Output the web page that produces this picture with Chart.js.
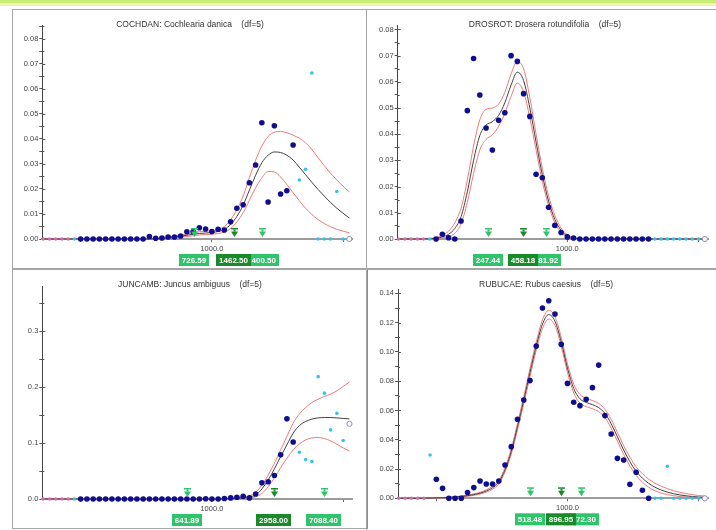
<!DOCTYPE html>
<html>
<head>
<meta charset="utf-8">
<script src="https://cdn.jsdelivr.net/npm/chart.js@4.4.1/dist/chart.umd.min.js"></script>
<style>
  html, body { margin: 0; padding: 0; background: #ffffff; }
  body { width: 716px; height: 530px; position: relative; overflow: hidden; }
  .band1 { position: absolute; left: 0; top: 0; width: 716px; height: 3px; background: #c6ef78; }
  .band2 { position: absolute; left: 0; top: 3px; width: 716px; height: 3px; background: #eef6ae; }
  .frame { position: absolute; box-sizing: border-box; border: 1px solid #a6a6a6; }
  canvas { position: absolute; }
</style>
</head>
<body>
<div class="band1"></div>
<div class="band2"></div>
<div class="frame" style="left:12px;top:9px;width:355px;height:260px;"></div>
<div class="frame" style="left:366px;top:9px;width:360px;height:260px;"></div>
<div class="frame" style="left:12px;top:269px;width:356px;height:260px;border-right:2px solid #8c8c8c;"></div>
<div class="frame" style="left:366px;top:269px;width:360px;height:270px;"></div>
<canvas id="cochdan" width="352" height="257" style="left:13px;top:10px;"></canvas>
<canvas id="drosrot" width="349" height="257" style="left:367px;top:10px;"></canvas>
<canvas id="juncamb" width="352" height="257" style="left:13px;top:270px;"></canvas>
<canvas id="rubucae" width="348" height="259" style="left:368px;top:270px;"></canvas>

<script>
// Gradient positions shared by all four species (log-spaced sampling points)
const gradient = [
  51.8, 57.8, 64.5, 72.0, 80.3, 89.6, 100, 111.6, 124.5, 138.9,
  155.0, 173.0, 193.1, 215.4, 240.4, 268.3, 299.4, 334.1, 372.8, 416.0,
  464.2, 518.0, 578.0, 644.9, 719.7, 803.1, 896.1, 1000, 1115.9, 1245.2,
  1389.5, 1550.5, 1730.1, 1930.7, 2154.4, 2404.1, 2682.7, 2993.6, 3340.5, 3727.6,
  4159.6, 4641.6, 5179.5, 5779.7, 6449.5, 7196.9, 8031.0, 8961.6, 10000, 11158.8
];
// Sample class of each gradient position: p = excluded, c = sparse, n = regular, o = end
const sampleClass = [
  'p','p','p','p','p','c','n','n','n','n',
  'n','n','n','n','n','n','n','n','n','n',
  'n','n','n','n','n','n','n','n','n','n',
  'n','n','n','n','n','n','n','n','n','n',
  'n','c','c','c','c','c','c','c','c','o'
];
const gradientTicks = [100, 1000, 10000];
const gradientTickLabels = ['', '1000.0', ''];

// COCHDAN: Cochlearia danica
const cochObs = [
  0,0,0,0,0,0,0,0,0,0,
  0,0,0,0,0,0,0,0.001,0.0003,0.0004,
  0.0008,0.0008,0.0012,0.0029,0.003,0.0045,0.004,0.003,0.0039,0.0036,
  0.0069,0.0123,0.0137,0.0225,0.0296,0.0465,0.0148,0.0453,0.018,0.0193,
  0.0376,0.0236,0.0279,0.0664,0,0,0,0.019,0,0
];
const cochFit = [
  0,0,0,0,0,0,0,0,0,0,
  0,0,0,0,0,0,0,0,0.0002,0.0003,
  0.0005,0.0008,0.0011,0.0015,0.0019,0.0022,0.0024,0.0026,0.003,0.0038,
  0.0058,0.009,0.0135,0.0195,0.0255,0.0305,0.0335,0.0348,0.0346,0.0335,
  0.0316,0.0287,0.0257,0.0227,0.0198,0.0171,0.0146,0.0123,0.0103,0.0084
];
const cochUpper = [
  0,0,0,0,0,0,0,0,0,0,
  0,0,0,0,0,0,0,0,0.0003,0.0005,
  0.0008,0.0011,0.0015,0.002,0.0025,0.0029,0.0031,0.0033,0.0038,0.005,
  0.0077,0.0118,0.0172,0.0245,0.0315,0.0372,0.041,0.0427,0.043,0.0425,
  0.0415,0.0403,0.0385,0.0358,0.0325,0.0293,0.0263,0.0236,0.0211,0.0188
];
const cochLower = [
  0,0,0,0,0,0,0,0,0,0,
  0,0,0,0,0,0,0,0,0.0001,0.0002,
  0.0003,0.0005,0.0008,0.001,0.0013,0.0016,0.0018,0.0019,0.0022,0.0028,
  0.0042,0.0068,0.0105,0.0155,0.0205,0.0245,0.027,0.0268,0.0248,0.0218,
  0.0185,0.0153,0.0123,0.0098,0.0078,0.0062,0.0049,0.0039,0.0031,0.0025
];
const cochMarks = [726.59, 1462.50, 2400.50];
const cochYTicks = [0, 0.01, 0.02, 0.03, 0.04, 0.05, 0.06, 0.07, 0.08];
const cochYLabels = ['0.00','0.01','0.02','0.03','0.04','0.05','0.06','0.07','0.08'];

// DROSROT: Drosera rotundifolia
const drosObs = [
  0,0,0,0,0,0,0,0.0018,0.0005,0,
  0.0069,0.049,0.0689,0.055,0.0424,0.034,0.0453,0.0482,0.070,0.0678,
  0.0555,0.0468,0.0247,0.0234,0.0121,0.0052,0.0025,0.0008,0.0004,0,
  0,0,0,0,0,0,0,0,0,0,
  0,0,0,0,0,0,0,0,0,0
];
const drosFit = [
  0,0,0,0,0,0.0001,0.0003,0.0008,0.0018,0.004,
  0.0085,0.018,0.030,0.0395,0.0435,0.0448,0.0472,0.052,0.0588,0.0637,
  0.0605,0.050,0.037,0.0245,0.0145,0.0075,0.0033,0.0012,0.0004,0.0001,
  0,0,0,0,0,0,0,0,0,0,
  0,0,0,0,0,0,0,0,0,0
];
const drosUpper = [
  0,0,0,0,0,0.0002,0.0006,0.0014,0.003,0.0062,
  0.0118,0.0225,0.0355,0.0455,0.0495,0.050,0.0515,0.056,0.063,0.0678,
  0.065,0.054,0.040,0.027,0.0165,0.009,0.0042,0.0017,0.0006,0.0002,
  0,0,0,0,0,0,0,0,0,0,
  0,0,0,0,0,0,0,0,0,0
];
const drosLower = [
  0,0,0,0,0,0,0.0001,0.0004,0.0009,0.0022,
  0.0058,0.014,0.025,0.034,0.038,0.0398,0.043,0.048,0.0545,0.0595,
  0.0562,0.0462,0.034,0.022,0.0128,0.0062,0.0026,0.0009,0.0003,0.0001,
  0,0,0,0,0,0,0,0,0,0,
  0,0,0,0,0,0,0,0,0,0
];
const drosMarks = [247.44, 458.18, 681.92];
const drosYTicks = [0, 0.01, 0.02, 0.03, 0.04, 0.05, 0.06, 0.07, 0.08];
const drosYLabels = ['0.00','0.01','0.02','0.03','0.04','0.05','0.06','0.07','0.08'];

// JUNCAMB: Juncus ambiguus
const juncObs = [
  0,0,0,0,0,0,0,0,0,0,
  0,0,0,0,0,0,0,0,0,0,
  0,0,0,0,0,0,0.0005,0,0,0.001,
  0.002,0.003,0.005,0.002,0.009,0.029,0.031,0.042,0.079,0.1435,
  0.102,0.0837,0.0705,0.067,0.219,0.1895,0.1237,0.1536,0.1046,0.1345
];
const juncFit = [
  0,0,0,0,0,0,0,0,0,0,
  0,0,0,0,0,0,0,0,0,0,
  0,0,0,0,0,0,0,0,0,0.0005,
  0.001,0.0015,0.002,0.004,0.007,0.018,0.034,0.054,0.076,0.097,
  0.118,0.1315,0.1387,0.143,0.1452,0.1458,0.1458,0.1452,0.1442,0.1435
];
const juncUpper = [
  0,0,0,0,0,0,0,0,0,0,
  0,0,0,0,0,0,0,0,0,0,
  0,0,0,0,0,0,0,0,0,0.0007,
  0.0014,0.002,0.003,0.0055,0.012,0.025,0.043,0.064,0.088,0.112,
  0.1357,0.1524,0.1638,0.1727,0.1787,0.1835,0.1877,0.1937,0.2014,0.2092
];
const juncLower = [
  0,0,0,0,0,0,0,0,0,0,
  0,0,0,0,0,0,0,0,0,0,
  0,0,0,0,0,0,0,0,0,0.0003,
  0.0006,0.001,0.0013,0.002,0.004,0.010,0.022,0.038,0.056,0.073,
  0.088,0.0986,0.1058,0.1094,0.110,0.1082,0.104,0.098,0.0915,0.086
];
const juncMarks = [641.89, 2958.00, 7088.40];
const juncYTicks = [0, 0.1, 0.2, 0.3];
const juncYLabels = ['0.0','0.1','0.2','0.3'];

// RUBUCAE: Rubus caesius
const rubuObs = [
  0,0,0,0,0,0.0296,0.013,0.0068,0,0,
  0,0.0039,0.0073,0.0118,0.0098,0.0098,0.0118,0.0228,0.0353,0.054,
  0.0672,0.0804,0.104,0.130,0.135,0.1259,0.1052,0.0785,0.0656,0.0633,
  0.0676,0.0756,0.091,0.0565,0.0439,0.0273,0.0262,0.0096,0.0178,0.0055,
  0,0,0,0.0219,0,0,0,0,0,0
];
const rubuFit = [
  0,0,0,0,0.0001,0.0002,0.0003,0.0004,0.0006,0.0009,
  0.0013,0.0018,0.0025,0.0035,0.005,0.0072,0.011,0.0195,0.032,0.049,
  0.067,0.086,0.104,0.119,0.1255,0.121,0.107,0.089,0.075,0.068,
  0.0655,0.064,0.062,0.058,0.051,0.042,0.033,0.025,0.0185,0.0138,
  0.0102,0.0076,0.0057,0.0042,0.0031,0.0023,0.0017,0.0012,0.0009,0.0007
];
const rubuUpper = [
  0,0,0,0,0.0001,0.0002,0.0003,0.0005,0.0007,0.0011,
  0.0016,0.0022,0.003,0.0041,0.0058,0.0082,0.0122,0.021,0.0338,0.0512,
  0.0695,0.0888,0.1068,0.122,0.1285,0.124,0.110,0.092,0.078,0.071,
  0.0683,0.0668,0.0648,0.0608,0.054,0.045,0.036,0.028,0.0215,0.0168,
  0.0131,0.0104,0.0083,0.0066,0.0052,0.0041,0.0032,0.0025,0.0019,0.0015
];
const rubuLower = [
  0,0,0,0,0,0.0001,0.0002,0.0003,0.0005,0.0007,
  0.001,0.0014,0.002,0.0029,0.0042,0.0062,0.0098,0.018,0.0302,0.0468,
  0.0645,0.0832,0.1012,0.116,0.1225,0.118,0.104,0.086,0.072,0.065,
  0.0627,0.0612,0.0592,0.0552,0.048,0.039,0.030,0.022,0.0157,0.011,
  0.0076,0.0052,0.0036,0.0025,0.0018,0.0012,0.0009,0.0006,0.0004,0.0003
];
const rubuMarks = [518.48, 896.95, 1272.30];
const rubuYTicks = [0, 0.02, 0.04, 0.06, 0.08, 0.10, 0.12, 0.14];
const rubuYLabels = ['0.00','0.02','0.04','0.06','0.08','0.10','0.12','0.14'];

const FONT = '"Liberation Sans", Arial, sans-serif';
const AXIS_W = 29;   // width reserved for the y axis labels
const AXIS_H = 12;   // height reserved for the x axis labels

function drawPanel(id, canvasBox, plotBox, spec) {
  const canvas = document.getElementById(id);
  const padding = {
    left: plotBox.l - canvasBox.l - AXIS_W,
    top: plotBox.t - canvasBox.t,
    right: canvasBox.l + canvas.width - plotBox.r,
    bottom: canvasBox.t + canvas.height - plotBox.b - AXIS_H
  };

  const points = (cls) => gradient
    .map((x, i) => sampleClass[i] === cls ? { x: x, y: spec.obs[i] } : null)
    .filter(Boolean);
  const curve = (vals) => gradient.map((x, i) => ({ x: x, y: vals[i] }));

  // major ticks carry labels; half steps are unlabelled minor ticks
  const step = spec.yTicks[1] - spec.yTicks[0];
  const yTickObjs = [];
  spec.yTicks.forEach((v, i) => {
    yTickObjs.push({ value: v, major: true, text: spec.yLabels[i] });
    const m = v + step / 2;
    if (m <= spec.yMax + 1e-9) yTickObjs.push({ value: m, major: false, text: '' });
  });

  const lineStyle = (color, order) => ({
    type: 'line', showLine: true, borderColor: color, borderWidth: 1,
    pointRadius: 0, cubicInterpolationMode: 'monotone', fill: false,
    clip: false, order: order
  });

  const panelPlugin = {
    id: 'panelDecor_' + id,
    beforeDatasetsDraw(chart) {
      // short inward tick marks so the y ticks cross the axis
      const ys = chart.scales.y, ctx = chart.ctx, L = chart.chartArea.left;
      ctx.save();
      ctx.strokeStyle = '#555';
      ctx.lineWidth = 1;
      yTickObjs.forEach(t => {
        const py = Math.round(ys.getPixelForValue(t.value)) + 0.5;
        ctx.beginPath();
        ctx.moveTo(L, py);
        ctx.lineTo(L + (t.major ? 3 : 2), py);
        ctx.stroke();
      });
      ctx.restore();
    },
    afterDatasetsDraw(chart) {
      const ctx = chart.ctx, xs = chart.scales.x, B = chart.chartArea.bottom;
      const light = '#2fc46a', dark = '#1a8a28';

      // title
      ctx.save();
      ctx.font = '8.5px ' + FONT;
      ctx.fillStyle = '#333';
      ctx.textAlign = 'center';
      ctx.textBaseline = 'middle';
      ctx.fillText(spec.title, spec.titleX, 15);

      // optimum / tolerance arrows
      const arrow = (v, color) => {
        const x = Math.round(xs.getPixelForValue(v)) + 0.5;
        const top = B - 11;
        ctx.fillStyle = color;
        ctx.fillRect(x - 3.5, top, 7, 1.5);
        ctx.fillRect(x - 1, top + 1.5, 2, 2);
        ctx.beginPath();
        ctx.moveTo(x - 3.5, top + 3.5);
        ctx.lineTo(x + 3.5, top + 3.5);
        ctx.lineTo(x, top + 9);
        ctx.closePath();
        ctx.fill();
      };
      arrow(spec.marks[0], light);
      arrow(spec.marks[2], light);
      arrow(spec.marks[1], dark);

      // value boxes under the axis
      ctx.font = 'bold 8px ' + FONT;
      const box = (v, color) => {
        const x = xs.getPixelForValue(v);
        const txt = v.toFixed(2);
        const w = Math.round(ctx.measureText(txt).width + 6);
        const left = Math.round(x - w / 2);
        ctx.fillStyle = color;
        ctx.fillRect(left, B + 15, w, 12);
        ctx.fillStyle = '#ffffff';
        ctx.fillText(txt, left + w / 2, B + 21.5);
      };
      box(spec.marks[0], light);
      box(spec.marks[2], light);
      box(spec.marks[1], dark);
      ctx.restore();
    }
  };

  return new Chart(canvas, {
    type: 'scatter',
    data: {
      datasets: [
        Object.assign({ data: curve(spec.upper) }, lineStyle('#f07878', 6)),
        Object.assign({ data: curve(spec.lower) }, lineStyle('#f07878', 5)),
        Object.assign({ data: curve(spec.fit) }, lineStyle('#404040', 4)),
        { data: points('p'), pointRadius: 1.7, pointBackgroundColor: '#cf6cb4', pointBorderWidth: 0, clip: false, order: 3 },
        { data: points('c'), pointRadius: 1.8, pointBackgroundColor: '#35c2ee', pointBorderWidth: 0, clip: false, order: 2 },
        { data: points('n'), pointRadius: 2.8, pointBackgroundColor: '#0e0e8e', pointBorderWidth: 0, clip: false, order: 1 },
        { data: points('o'), pointRadius: 2.6, pointBackgroundColor: '#ffffff', pointBorderColor: '#9a86c6', pointBorderWidth: 1, clip: false, order: 0 }
      ]
    },
    options: {
      responsive: false,
      animation: false,
      devicePixelRatio: 1,
      events: [],
      layout: { padding: padding },
      plugins: { legend: { display: false }, tooltip: { enabled: false }, title: { display: false } },
      scales: {
        x: {
          type: 'logarithmic',
          min: 51,
          max: 11800,
          afterBuildTicks: (s) => { s.ticks = gradientTicks.map(v => ({ value: v })); },
          afterFit: (s) => { s.height = AXIS_H; },
          ticks: {
            autoSkip: false, maxRotation: 0, padding: 2.5,
            font: { family: FONT, size: 7.5 }, color: '#444',
            callback: (v, i) => gradientTickLabels[i]
          },
          grid: { drawOnChartArea: false, drawTicks: true, tickLength: 3, color: '#666' },
          border: { display: true, color: '#9c9c9c', width: 2 }
        },
        y: {
          type: 'linear',
          min: 0,
          max: spec.yMax,
          afterBuildTicks: (s) => { s.ticks = yTickObjs.map(t => ({ value: t.value })); },
          afterFit: (s) => { s.width = AXIS_W; },
          ticks: {
            autoSkip: false, padding: 1,
            font: { family: FONT, size: 7.5 }, color: '#444',
            callback: (v, i) => yTickObjs[i].text
          },
          grid: { drawOnChartArea: false, drawTicks: true, tickLength: 3, color: '#555' },
          border: { display: true, color: '#444', width: 1 }
        }
      }
    },
    plugins: [panelPlugin]
  });
}

drawPanel('cochdan', { l: 13, t: 10 }, { l: 42.3, r: 352.5, t: 25.7, b: 239 }, {
  title: 'COCHDAN: Cochlearia danica    (df=5)', titleX: 177,
  obs: cochObs, fit: cochFit, upper: cochUpper, lower: cochLower, marks: cochMarks,
  yTicks: cochYTicks, yLabels: cochYLabels, yMax: 0.0853
});
drawPanel('drosrot', { l: 367, t: 10 }, { l: 397.7, r: 708, t: 25, b: 239 }, {
  title: 'DROSROT: Drosera rotundifolia    (df=5)', titleX: 178,
  obs: drosObs, fit: drosFit, upper: drosUpper, lower: drosLower, marks: drosMarks,
  yTicks: drosYTicks, yLabels: drosYLabels, yMax: 0.0817
});
drawPanel('juncamb', { l: 13, t: 270 }, { l: 42.3, r: 352.6, t: 286.7, b: 499 }, {
  title: 'JUNCAMB: Juncus ambiguus    (df=5)', titleX: 177,
  obs: juncObs, fit: juncFit, upper: juncUpper, lower: juncLower, marks: juncMarks,
  yTicks: juncYTicks, yLabels: juncYLabels, yMax: 0.38
});
drawPanel('rubucae', { l: 368, t: 270 }, { l: 398, r: 708, t: 289, b: 498.3 }, {
  title: 'RUBUCAE: Rubus caesius    (df=5)', titleX: 178,
  obs: rubuObs, fit: rubuFit, upper: rubuUpper, lower: rubuLower, marks: rubuMarks,
  yTicks: rubuYTicks, yLabels: rubuYLabels, yMax: 0.143
});
</script>
</body>
</html>
